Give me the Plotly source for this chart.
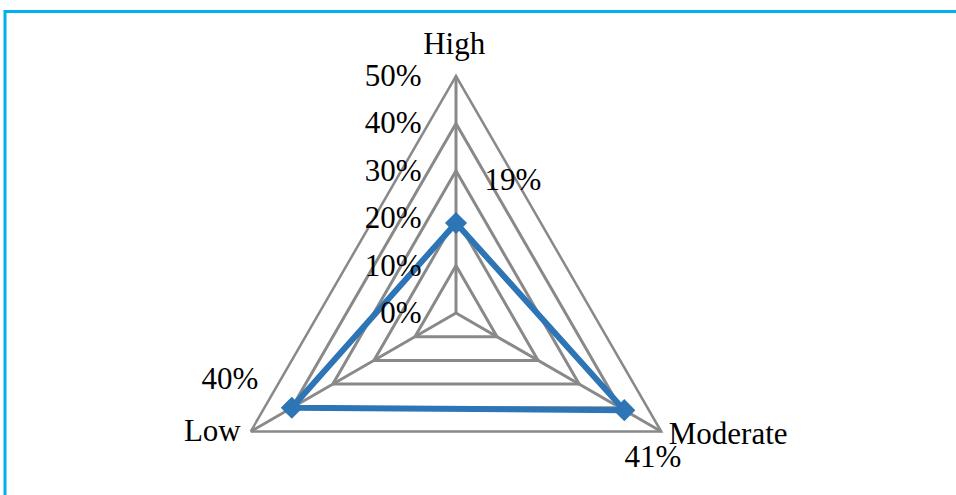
import plotly.graph_objects as go

# ---- data ----
categories = ["High", "Moderate", "Low"]
values = [19, 41, 40]
radial_ticks = [0, 10, 20, 30, 40, 50]
radial_ticktext = ["0%", "10%", "20%", "30%", "40%", "50%"]

# ---- style / layout constants ----
W, H = 956, 640
CX, CY, R = 456, 313, 237          # main radar centre and 50% radius (px)
PX_PER_UNIT = R / 50
R2_MAX = 66                        # overlay polar range (same scale)
R2 = R2_MAX * PX_PER_UNIT
BLUE = "#2E75B6"
GRID = "#898989"
FONT = "Liberation Serif"
FS = 31

# math-convention angles of categories (for label placement on overlay polar)
cat_angles = {"High": 90, "Moderate": -30, "Low": 210}
# data label placement (offsets from the data point, in % units / degrees)
label_dr = {"High": 11.1, "Moderate": 10.7, "Low": 9.8}
label_dth = {"High": -23.5, "Moderate": -6.5, "Low": -13.3}
# category label placement (radius in % units, angle offset)
cat_label_r = {"High": 56.3, "Moderate": 63.0, "Low": 57.3}
cat_label_dth = {"High": 0.4, "Moderate": 5.7, "Low": -3.8}

dom_x = [(CX - R) / W, (CX + R) / W]
dom_y = [1 - (CY + R) / H, 1 - (CY - R) / H]
dom2_x = [(CX - R2) / W, (CX + R2) / W]
dom2_y = [1 - (CY + R2) / H, 1 - (CY - R2) / H]

fig = go.Figure()

fig.add_trace(go.Scatterpolar(
    r=values + values[:1],
    theta=categories + categories[:1],
    mode="lines",
    line=dict(color=BLUE, width=6),
    subplot="polar",
    showlegend=False,
    hoverinfo="skip",
))
fig.add_trace(go.Scatterpolar(
    r=values,
    theta=categories,
    mode="markers",
    marker=dict(symbol="diamond", size=17, color=BLUE),
    subplot="polar",
    showlegend=False,
))

# data labels
fig.add_trace(go.Scatterpolar(
    r=[v + label_dr[c] for c, v in zip(categories, values)],
    theta=[cat_angles[c] + label_dth[c] for c in categories],
    mode="text",
    text=[f"{v}%" for v in values],
    textposition="middle center",
    textfont=dict(family=FONT, size=FS, color="black"),
    cliponaxis=False,
    subplot="polar2",
    showlegend=False,
    hoverinfo="skip",
))

# category labels
fig.add_trace(go.Scatterpolar(
    r=[cat_label_r[c] for c in categories],
    theta=[cat_angles[c] + cat_label_dth[c] for c in categories],
    mode="text",
    text=categories,
    textposition="middle center",
    textfont=dict(family=FONT, size=FS, color="black"),
    cliponaxis=False,
    subplot="polar2",
    showlegend=False,
    hoverinfo="skip",
))

fig.update_layout(
    width=W, height=H,
    margin=dict(l=0, r=0, t=0, b=0),
    paper_bgcolor="white",
    plot_bgcolor="white",
    font=dict(family=FONT, size=FS, color="black"),
    polar=dict(
        domain=dict(x=dom_x, y=dom_y),
        gridshape="linear",
        bgcolor="white",
        angularaxis=dict(
            direction="clockwise",
            rotation=90,
            showline=True,
            linecolor=GRID,
            linewidth=2.5,
            gridcolor=GRID,
            gridwidth=2.5,
            ticks="",
            showticklabels=False,
        ),
        radialaxis=dict(
            range=[0, 50],
            angle=90,
            side="counterclockwise",
            tickmode="array",
            tickvals=radial_ticks,
            ticktext=radial_ticktext,
            showline=False,
            gridcolor=GRID,
            gridwidth=2.5,
            ticks="outside",
            ticklen=23,
            tickcolor="rgba(0,0,0,0)",
            tickfont=dict(family=FONT, size=FS, color="black"),
            tickangle=90,
        ),
    ),
    polar2=dict(
        domain=dict(x=dom2_x, y=dom2_y),
        bgcolor="rgba(0,0,0,0)",
        angularaxis=dict(visible=False, direction="counterclockwise", rotation=0),
        radialaxis=dict(visible=False, range=[0, R2_MAX]),
    ),
    shapes=[dict(
        type="rect", xref="paper", yref="paper",
        x0=5 / W, x1=1.05, y0=-0.1, y1=1 - 11.5 / H,
        line=dict(color="#00B0F0", width=3),
        fillcolor="rgba(0,0,0,0)",
    )],
)

fig.write_html("out.html")
